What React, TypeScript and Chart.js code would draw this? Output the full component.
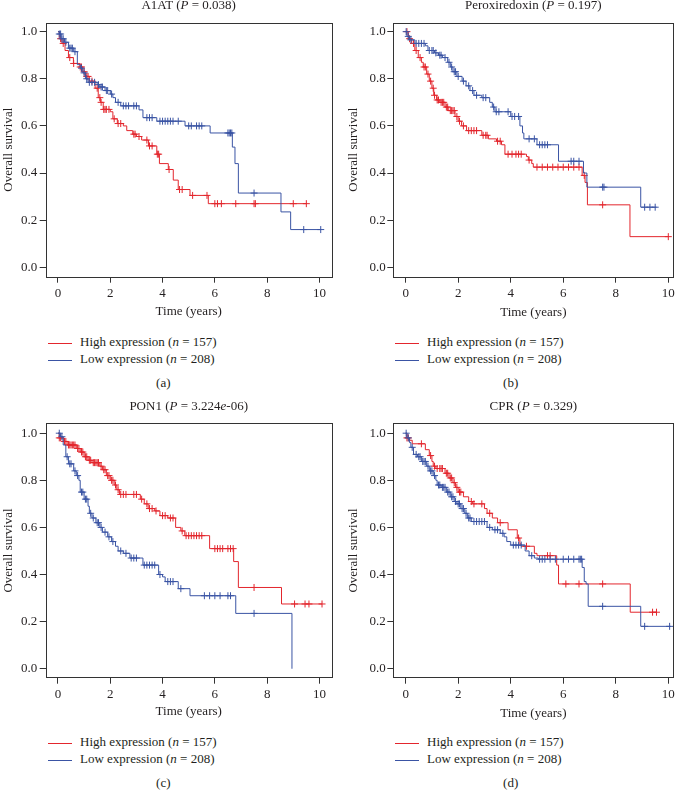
import React, { useEffect, useRef } from "react";
import { Chart, registerables } from "chart.js";

Chart.register(...registerables);

const FONT = "'Liberation Serif', 'Times New Roman', serif";
const TEXT = "#231f20";
const RED = "#e3262d";
const BLUE = "#3a54a4";
const FRAME = "#333333";

const X_TICKS = [0, 2, 4, 6, 8, 10];
const Y_TICKS = [0, 0.2, 0.4, 0.6, 0.8, 1.0];
const X_TITLE = "Time (years)";
const Y_TITLE = "Overall survival";
const HIGH_LABEL = "High expression";
const LOW_LABEL = "Low expression";
const HIGH_N = "157";
const LOW_N = "208";

// ---------- Panel (a) A1AT ----------
const aHighT = [0, 0.05, 0.15, 0.27, 0.4, 0.59, 0.84, 0.95, 1.05, 1.2, 1.42, 1.54, 1.62, 1.73, 2.0, 2.1, 2.27, 2.5, 2.63, 2.86, 3.0, 3.2, 3.46, 3.78, 3.88, 4.22, 4.41, 4.6, 5.05, 5.75, 9.5];
const aHighS = [1, 0.97, 0.95, 0.92, 0.89, 0.865, 0.85, 0.83, 0.81, 0.79, 0.76, 0.72, 0.7, 0.67, 0.66, 0.63, 0.61, 0.6, 0.58, 0.565, 0.555, 0.54, 0.515, 0.48, 0.44, 0.415, 0.37, 0.33, 0.305, 0.27, 0.27];
const aHighC = [0.1, 0.2, 0.45, 0.6, 0.85, 0.9, 1.0, 1.1, 1.15, 1.3, 1.5, 1.6, 1.65, 1.75, 1.8, 1.85, 1.95, 2.15, 2.3, 2.4, 2.9, 2.95, 3.1, 3.4, 3.5, 3.6, 3.8, 3.85, 4.25, 4.65, 4.75, 5.15, 5.7, 6.0, 6.1, 6.25, 6.8, 7.5, 7.55, 9.0, 9.5];
const aLowT = [0, 0.05, 0.12, 0.25, 0.4, 0.6, 0.74, 0.85, 0.95, 1.05, 1.15, 1.5, 1.6, 1.8, 2.0, 2.1, 2.2, 2.4, 3.1, 3.25, 3.78, 4.86, 5.82, 6.67, 6.77, 6.9, 8.53, 8.9, 10.05];
const aLowS = [1, 0.99, 0.97, 0.955, 0.93, 0.915, 0.86, 0.845, 0.825, 0.8, 0.785, 0.775, 0.765, 0.75, 0.735, 0.72, 0.7, 0.685, 0.668, 0.635, 0.62, 0.6, 0.57, 0.51, 0.44, 0.315, 0.235, 0.16, 0.16];
const aLowC = [0.05, 0.1, 0.15, 0.2, 0.3, 0.45, 0.5, 0.55, 0.65, 0.9, 1.0, 1.1, 1.2, 1.3, 1.4, 1.55, 1.65, 1.7, 1.85, 1.9, 2.05, 2.3, 2.5, 2.6, 2.7, 2.9, 3.0, 3.4, 3.5, 3.6, 3.9, 4.0, 4.1, 4.2, 4.3, 4.4, 4.6, 5.0, 5.1, 5.3, 5.4, 5.5, 6.5, 6.55, 6.6, 6.65, 7.5, 9.4, 10.05];

// ---------- Panel (b) Peroxiredoxin ----------
const bHighT = [0, 0.1, 0.23, 0.35, 0.48, 0.6, 0.67, 0.8, 0.9, 1.0, 1.07, 1.18, 1.3, 1.5, 1.62, 1.88, 2.0, 2.13, 2.32, 2.9, 3.15, 3.46, 3.65, 3.78, 4.6, 4.67, 4.8, 4.86, 6.72, 6.83, 6.92, 8.54, 10.0];
const bHighS = [1, 0.97, 0.95, 0.92, 0.89, 0.87, 0.85, 0.82, 0.79, 0.76, 0.73, 0.71, 0.7, 0.68, 0.665, 0.64, 0.62, 0.6, 0.58, 0.56, 0.545, 0.535, 0.52, 0.48, 0.47, 0.455, 0.44, 0.425, 0.39, 0.36, 0.265, 0.13, 0.13];
const bHighC = [0.05, 0.15, 0.3, 0.4, 0.55, 0.7, 0.75, 0.85, 0.95, 1.05, 1.1, 1.2, 1.25, 1.35, 1.4, 1.45, 1.55, 1.6, 1.7, 1.75, 1.8, 1.85, 1.95, 2.05, 2.2, 2.4, 2.5, 2.6, 2.7, 2.95, 3.05, 3.1, 3.5, 3.6, 3.9, 4.05, 4.2, 4.3, 4.4, 4.7, 5.0, 5.2, 5.4, 5.6, 5.8, 6.0, 6.2, 6.4, 6.6, 6.8, 7.5, 10.0];
const bLowT = [0, 0.05, 0.15, 0.35, 0.75, 0.85, 1.1, 1.25, 1.4, 1.6, 1.7, 1.8, 1.95, 2.15, 2.3, 2.45, 2.6, 2.9, 3.2, 3.3, 3.4, 4.0, 4.35, 4.45, 4.5, 5.0, 5.82, 6.77, 6.9, 8.95, 9.55];
const bLowS = [1, 0.98, 0.965, 0.95, 0.94, 0.92, 0.91, 0.9, 0.89, 0.87, 0.85, 0.83, 0.81, 0.79, 0.77, 0.75, 0.73, 0.72, 0.7, 0.68, 0.66, 0.64, 0.6, 0.57, 0.545, 0.52, 0.45, 0.4, 0.34, 0.255, 0.255];
const bLowC = [0.02, 0.1, 0.2, 0.4, 0.5, 0.6, 0.7, 0.9, 1.0, 1.05, 1.15, 1.3, 1.35, 1.5, 1.65, 1.75, 1.85, 1.9, 2.0, 2.2, 2.4, 2.55, 2.7, 2.95, 3.05, 3.35, 3.45, 3.55, 3.9, 4.05, 4.15, 4.3, 4.7, 4.9, 5.1, 5.2, 5.3, 5.4, 6.3, 6.4, 6.6, 7.5, 7.55, 9.1, 9.3, 9.5];

// ---------- Panel (c) PON1 ----------
const cHighT = [0, 0.05, 0.2, 0.35, 0.7, 0.85, 1.0, 1.15, 1.3, 1.6, 1.7, 1.85, 2.0, 2.15, 2.25, 2.35, 3.15, 3.3, 3.45, 3.7, 3.9, 4.2, 4.5, 4.7, 4.85, 5.8, 6.72, 6.9, 8.55, 10.1];
const cHighS = [1, 0.98, 0.965, 0.95, 0.935, 0.92, 0.9, 0.885, 0.875, 0.86, 0.845, 0.82, 0.8, 0.78, 0.76, 0.74, 0.72, 0.7, 0.68, 0.67, 0.65, 0.64, 0.6, 0.585, 0.565, 0.51, 0.455, 0.345, 0.275, 0.275];
const cHighC = [0.05, 0.1, 0.25, 0.3, 0.4, 0.45, 0.5, 0.55, 0.6, 0.65, 0.75, 0.8, 0.9, 0.95, 1.05, 1.1, 1.2, 1.25, 1.35, 1.4, 1.45, 1.5, 1.55, 1.65, 1.75, 1.8, 1.9, 1.95, 2.05, 2.1, 2.2, 2.3, 2.4, 2.5, 2.6, 2.9, 3.0, 3.2, 3.4, 3.5, 3.6, 3.75, 4.0, 4.1, 4.3, 4.4, 4.75, 4.9, 5.0, 5.1, 5.2, 5.3, 5.4, 5.5, 6.0, 6.1, 6.2, 6.3, 6.5, 6.6, 6.7, 7.5, 9.05, 9.45, 9.6, 10.1];
const cLowT = [0, 0.1, 0.2, 0.3, 0.4, 0.6, 0.7, 0.8, 0.85, 1.0, 1.15, 1.2, 1.3, 1.45, 1.6, 1.7, 1.9, 2.05, 2.2, 2.3, 2.5, 2.75, 3.25, 3.85, 4.0, 4.1, 4.6, 5.05, 6.8, 8.95];
const cLowS = [1, 0.985, 0.95, 0.9, 0.87, 0.84, 0.82, 0.8, 0.75, 0.72, 0.69, 0.66, 0.64, 0.62, 0.6, 0.58, 0.56, 0.54, 0.52, 0.5, 0.49, 0.47, 0.44, 0.4, 0.39, 0.37, 0.34, 0.31, 0.235, 0];
const cLowC = [0.05, 0.15, 0.35, 0.45, 0.5, 0.65, 0.75, 0.9, 0.95, 1.05, 1.1, 1.25, 1.35, 1.5, 1.55, 1.65, 1.8, 1.95, 2.1, 2.4, 2.6, 2.8, 2.9, 3.0, 3.3, 3.4, 3.5, 3.6, 3.7, 3.9, 4.2, 4.3, 4.4, 4.7, 5.6, 5.8, 6.0, 6.2, 6.5, 6.6, 7.5];

// ---------- Panel (d) CPR ----------
const dHighT = [0, 0.05, 0.15, 0.25, 0.75, 0.9, 1.0, 1.05, 1.15, 1.5, 1.65, 1.8, 1.9, 2.0, 2.2, 2.4, 2.55, 3.0, 3.1, 3.3, 3.5, 3.9, 4.25, 4.35, 4.4, 4.9, 5.0, 5.75, 5.82, 8.55, 9.55];
const dHighS = [1, 0.98, 0.97, 0.955, 0.93, 0.905, 0.88, 0.86, 0.85, 0.83, 0.81, 0.79, 0.77, 0.75, 0.73, 0.71, 0.7, 0.68, 0.66, 0.64, 0.62, 0.59, 0.555, 0.53, 0.52, 0.49, 0.48, 0.44, 0.36, 0.24, 0.24];
const dHighC = [0.05, 0.1, 0.6, 0.95, 1.1, 1.2, 1.3, 1.35, 1.4, 1.55, 1.6, 1.7, 1.75, 1.85, 1.95, 2.05, 2.1, 2.5, 2.6, 2.9, 3.2, 3.6, 4.3, 4.6, 5.4, 5.5, 6.1, 6.6, 7.5, 9.4, 9.55];
const dLowT = [0, 0.05, 0.15, 0.2, 0.3, 0.45, 0.6, 0.8, 0.9, 1.05, 1.15, 1.2, 1.35, 1.55, 1.7, 1.85, 1.95, 2.1, 2.25, 2.35, 2.5, 3.1, 3.3, 3.6, 3.75, 3.85, 4.0, 4.55, 4.7, 4.9, 5.05, 6.72, 6.8, 6.87, 6.95, 8.95, 10.1];
const dLowS = [1, 0.98, 0.96, 0.94, 0.91, 0.9, 0.88, 0.86, 0.84, 0.82, 0.8, 0.78, 0.77, 0.75, 0.73, 0.71, 0.7, 0.68, 0.66, 0.64, 0.625, 0.6, 0.59, 0.575, 0.56, 0.54, 0.525, 0.5, 0.48, 0.47, 0.465, 0.43, 0.37, 0.36, 0.265, 0.18, 0.18];
const dLowC = [0.02, 0.1, 0.25, 0.4, 0.5, 0.55, 0.65, 0.7, 0.75, 0.85, 0.95, 1.0, 1.1, 1.25, 1.3, 1.4, 1.45, 1.5, 1.6, 1.65, 1.75, 1.8, 1.9, 2.0, 2.05, 2.15, 2.2, 2.3, 2.4, 2.45, 2.6, 2.7, 2.8, 2.9, 3.0, 3.2, 3.4, 3.5, 3.7, 4.1, 4.2, 4.3, 4.4, 4.8, 5.1, 5.2, 5.3, 5.5, 5.7, 6.0, 6.2, 6.4, 6.6, 6.65, 6.7, 7.5, 9.1, 10.05];

type Curve = { t: number[]; s: number[]; c: number[] };

function survAt(cv: Curve, time: number) {
  let v = cv.s[0];
  for (let i = 0; i < cv.t.length; i++) if (cv.t[i] <= time) v = cv.s[i];
  return v;
}

const framePlugin = {
  id: "frame",
  afterDraw(chart: any) {
    const { ctx, chartArea: a } = chart;
    ctx.save();
    ctx.strokeStyle = FRAME;
    ctx.lineWidth = 1;
    ctx.strokeRect(Math.round(a.left) + 0.5, Math.round(a.top) + 0.5, Math.round(a.right - a.left), Math.round(a.bottom - a.top));
    ctx.restore();
  },
};

type PanelCfg = {
  left: number;
  top: number;
  yAxisW: number;
  padRight: number;
  padTop: number;
  xAxisH: number;
  xMin: number;
  xMax: number;
  yMin: number;
  yMax: number;
  yTitlePad: number;
  xTitlePad: number;
  yTickPad: number;
  title: React.ReactNode;
  titleCenter: number;
  titleTop: number;
  legLineX: number;
  legTextX: number;
  legY: number;
  caption: string;
  captionX: number;
  captionTop: number;
  high: Curve;
  low: Curve;
};

function KMPanel({ cfg }: { cfg: PanelCfg }) {
  const ref = useRef<HTMLCanvasElement>(null);
  useEffect(() => {
    const mk = (cv: Curve) => cv.t.map((t, i) => ({ x: t, y: cv.s[i] }));
    const cen = (cv: Curve) => cv.c.map((t) => ({ x: t, y: survAt(cv, t) }));
    const lineDs = (cv: Curve, color: string) => ({
      data: mk(cv),
      borderColor: color,
      backgroundColor: color,
      borderWidth: 1,
      stepped: true,
      pointRadius: 0,
      showLine: true,
      fill: false,
    });
    const cenDs = (cv: Curve, color: string) => ({
      data: cen(cv),
      borderColor: color,
      backgroundColor: color,
      borderWidth: 1,
      showLine: false,
      pointStyle: "cross",
      pointRadius: 3.5,
      pointBorderWidth: 1,
    });
    const tickFont = { family: FONT, size: 13 };
    const chart = new Chart(ref.current!, {
      type: "line",
      data: {
        datasets: [
          cenDs(cfg.low, BLUE),
          lineDs(cfg.low, BLUE),
          cenDs(cfg.high, RED),
          lineDs(cfg.high, RED),
        ] as any,
      },
      options: {
        animation: false,
        responsive: false,
        events: [],
        layout: { padding: { top: cfg.padTop, right: cfg.padRight, left: 0, bottom: 0 } },
        plugins: { legend: { display: false }, title: { display: false }, tooltip: { enabled: false } },
        scales: {
          x: {
            type: "linear",
            min: cfg.xMin,
            max: cfg.xMax,
            afterBuildTicks: (s: any) => {
              s.ticks = X_TICKS.map((v) => ({ value: v }));
            },
            afterFit: (s: any) => {
              s.height = cfg.xAxisH;
            },
            ticks: { font: tickFont, color: TEXT, padding: 3, maxRotation: 0, callback: (v: any) => String(v) },
            grid: { display: true, drawOnChartArea: false, drawTicks: true, tickLength: 6, color: FRAME },
            border: { display: false },
            title: { display: true, text: X_TITLE, font: { family: FONT, size: 13 }, color: TEXT, padding: { top: 0, bottom: cfg.xTitlePad } },
          },
          y: {
            type: "linear",
            min: cfg.yMin,
            max: cfg.yMax,
            afterBuildTicks: (s: any) => {
              s.ticks = Y_TICKS.map((v) => ({ value: v }));
            },
            afterFit: (s: any) => {
              s.width = cfg.yAxisW;
            },
            ticks: { font: tickFont, color: TEXT, padding: cfg.yTickPad, callback: (v: any) => Number(v).toFixed(1) },
            grid: { display: true, drawOnChartArea: false, drawTicks: true, tickLength: 6, color: FRAME },
            border: { display: false },
            title: { display: true, text: Y_TITLE, font: { family: FONT, size: 13 }, color: TEXT, padding: { top: cfg.yTitlePad, bottom: 0 } },
          },
        },
      } as any,
      plugins: [framePlugin],
    });
    return () => chart.destroy();
  }, [cfg]);

  const txt: React.CSSProperties = {
    position: "absolute",
    fontFamily: FONT,
    fontSize: 13,
    lineHeight: "16px",
    color: TEXT,
    whiteSpace: "nowrap",
  };
  const lineLen = 24;
  return (
    <>
      <canvas
        ref={ref}
        width={340}
        height={330}
        style={{ position: "absolute", left: cfg.left, top: cfg.top, width: 340, height: 330 }}
      />
      <div style={{ ...txt, left: cfg.titleCenter - 150, width: 300, textAlign: "center", top: cfg.titleTop }}>{cfg.title}</div>
      <div style={{ position: "absolute", left: cfg.legLineX, top: cfg.legY, width: lineLen, height: 1, background: RED }} />
      <div style={{ position: "absolute", left: cfg.legLineX, top: cfg.legY + 17.3, width: lineLen, height: 1, background: BLUE }} />
      <div style={{ ...txt, left: cfg.legTextX, top: cfg.legY - 8.4 }}>
        {HIGH_LABEL} (<i>n</i> = {HIGH_N})
      </div>
      <div style={{ ...txt, left: cfg.legTextX, top: cfg.legY + 17.3 - 8.4 }}>
        {LOW_LABEL} (<i>n</i> = {LOW_N})
      </div>
      <div style={{ ...txt, left: cfg.captionX - 50, width: 100, textAlign: "center", top: cfg.captionTop }}>{cfg.caption}</div>
    </>
  );
}

const panels: PanelCfg[] = [
  {
    left: 0, top: 0, yAxisW: 45.7, padRight: 8.3, padTop: 22.7, xAxisH: 53.3,
    xMin: -0.47, xMax: 10.47, yMin: -0.04, yMax: 1.038, yTitlePad: 1, xTitlePad: 10.5, yTickPad: 2.5,
    title: <>A1AT (<i>P</i> = 0.038)</>, titleCenter: 188.7, titleTop: -3.4,
    legLineX: 48, legTextX: 80, legY: 342.5, caption: "(a)", captionX: 163.3, captionTop: 375,
    high: { t: aHighT, s: aHighS, c: aHighC }, low: { t: aLowT, s: aLowS, c: aLowC },
  },
  {
    left: 340, top: 0, yAxisW: 53.3, padRight: 6.7, padTop: 22.7, xAxisH: 53.3,
    xMin: -0.47, xMax: 10.19, yMin: -0.04, yMax: 1.038, yTitlePad: 6, xTitlePad: 9.5, yTickPad: 1.5,
    title: <>Peroxiredoxin (<i>P</i> = 0.197)</>, titleCenter: 533.3, titleTop: -3.4,
    legLineX: 395, legTextX: 427, legY: 342.5, caption: "(b)", captionX: 510.7, captionTop: 375,
    high: { t: bHighT, s: bHighS, c: bHighC }, low: { t: bLowT, s: bLowS, c: bLowC },
  },
  {
    left: 0, top: 400, yAxisW: 45.7, padRight: 8.3, padTop: 23.3, xAxisH: 52.3,
    xMin: -0.47, xMax: 10.47, yMin: -0.038, yMax: 1.042, yTitlePad: 0.5, xTitlePad: 10.5, yTickPad: 2.5,
    title: <>PON1 (<i>P</i> = 3.224<i>e</i>-06)</>, titleCenter: 188.7, titleTop: 398.3,
    legLineX: 48, legTextX: 80, legY: 742.5, caption: "(c)", captionX: 163.3, captionTop: 775,
    high: { t: cHighT, s: cHighS, c: cHighC }, low: { t: cLowT, s: cLowS, c: cLowC },
  },
  {
    left: 340, top: 400, yAxisW: 53.3, padRight: 6.7, padTop: 23.3, xAxisH: 52.3,
    xMin: -0.47, xMax: 10.19, yMin: -0.038, yMax: 1.042, yTitlePad: 6, xTitlePad: 9, yTickPad: 1.5,
    title: <>CPR (<i>P</i> = 0.329)</>, titleCenter: 533.3, titleTop: 398.3,
    legLineX: 395, legTextX: 427, legY: 742.5, caption: "(d)", captionX: 510.7, captionTop: 775,
    high: { t: dHighT, s: dHighS, c: dHighC }, low: { t: dLowT, s: dLowS, c: dLowC },
  },
];

export default function App() {
  return (
    <div style={{ position: "absolute", left: 0, top: 0, width: 680, height: 803, background: "#fff", overflow: "hidden" }}>
      {panels.map((p, i) => (
        <KMPanel key={i} cfg={p} />
      ))}
    </div>
  );
}
